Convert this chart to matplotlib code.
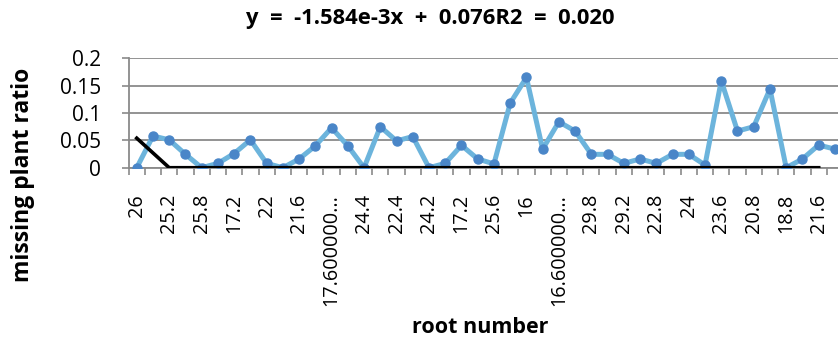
import numpy as np
import matplotlib.pyplot as plt

# Werte
root_number = ["26", "", "25.2", "", "25.8", "", "17.2", "", "22", "", "21.6", "",
               "17.600000...", "", "24.4", "", "22.4", "", "24.2", "", "17.2", "",
               "25.6", "", "16", "", "16.600000...", "", "29.8", "", "29.2", "",
               "22.8", "", "24", "", "23.6", "", "20.8", "", "18.8", "", "21.6", ""]
missing_ratio = [0.0, 0.058, 0.051, 0.0245, 0.0, 0.008, 0.026, 0.051, 0.008, 0.0,
                 0.016, 0.040, 0.073, 0.040, 0.0, 0.075, 0.049, 0.057, 0.0, 0.008,
                 0.041, 0.016, 0.007, 0.118, 0.165, 0.034, 0.084, 0.067, 0.0245, 0.0245,
                 0.008, 0.016, 0.008, 0.0245, 0.0245, 0.005, 0.159, 0.067, 0.075, 0.144,
                 0.0, 0.016, 0.0415, 0.034]
trend = [0.054, 0.027] + [0.0] * 41

plt.rcParams['font.family'] = ['Open Sans', 'DejaVu Sans']

fig = plt.figure(figsize=(8.38, 3.43), dpi=100)
ax = fig.add_axes([0.1535, 0.511, 0.8525, 0.319])

x = np.arange(len(missing_ratio))
ax.plot(x, missing_ratio, color='#6cb4dc', lw=3.6, marker='o', markersize=6.5,
        markerfacecolor='#4a86c8', markeredgecolor='#4a86c8', zorder=3)
ax.plot(np.arange(len(trend)), trend, color='black', lw=2.6, zorder=4)

ax.set_xlim(-0.5, len(missing_ratio) - 0.5)
ax.set_ylim(0, 0.2)
ax.set_yticks([0, 0.05, 0.1, 0.15, 0.2])
ax.set_yticklabels(['0', '0.05', '0.1', '0.15', '0.2'], fontsize=15)
ax.yaxis.grid(True, color='#8a8a8a', lw=1.3)
ax.set_axisbelow(True)
ax.tick_params(axis='y', length=5, color='#8a8a8a', width=1.2, pad=15)

ax.set_xticks(x)
ax.set_xticklabels(root_number, rotation=90, fontsize=14.3)
ax.set_xticks(np.arange(-0.5, len(missing_ratio)), minor=True)
ax.tick_params(axis='x', which='major', length=0, pad=19)
ax.tick_params(axis='x', which='minor', length=5, color='#8a8a8a', width=1.2)

for s in ['top', 'right']:
    ax.spines[s].set_visible(False)
ax.spines['left'].set_color('#8a8a8a')
ax.spines['left'].set_linewidth(1.3)
ax.spines['bottom'].set_color('#8a8a8a')
ax.spines['bottom'].set_linewidth(1.3)

fig.text(0.513, 0.945, 'y  =  -1.584e-3x  +  0.076R2  =  0.020', ha='center', va='center',
         fontsize=15.8, fontweight='bold')
fig.text(0.027, 0.491, 'missing plant ratio', rotation=90, ha='center', va='center',
         fontsize=16.5, fontweight='bold')
fig.text(0.573, 0.044, 'root number', ha='center', va='center',
         fontsize=15.5, fontweight='bold')

fig.savefig('out.png', dpi=100)
